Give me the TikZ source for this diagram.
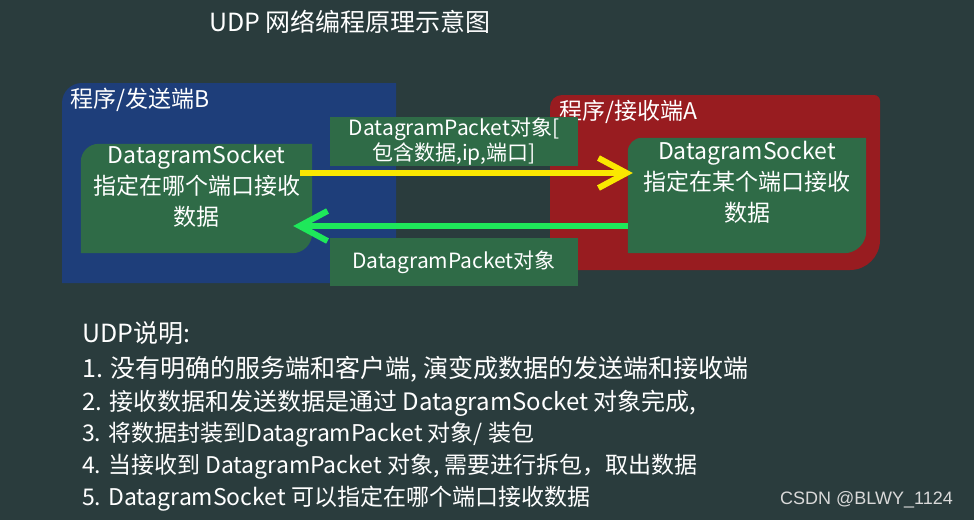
\documentclass[tikz,border=0pt]{standalone}
\usepackage{fontspec}
\setmainfont{Noto Sans CJK SC}
\newfontfamily\markfont{Liberation Sans}
\usetikzlibrary{arrows.meta}

\definecolor{bgslate}{RGB}{42,60,61}
\definecolor{senderblue}{RGB}{30,62,122}
\definecolor{receiverred}{RGB}{152,28,32}
\definecolor{socketgreen}{RGB}{47,107,71}
\definecolor{sendyellow}{RGB}{250,232,0}
\definecolor{replygreen}{RGB}{30,232,90}

\tikzset{
  boxarea/.style={rectangle, inner sep=0pt},
  sockettext/.style={text=white, align=center, inner sep=0pt, font=\fontsize{23}{31}\selectfont},
  packetbox/.style={rectangle, fill=socketgreen, text=white, align=center, inner sep=0pt,
    minimum width=248pt, font=\fontsize{21}{25}\selectfont},
  sidelabel/.style={text=white, anchor=west, inner sep=0pt, font=\fontsize{23}{28}\selectfont},
  noteline/.style={text=white, anchor=base west, inner sep=0pt, font=\fontsize{#1}{32}\selectfont},
  packetarrow/.style={line width=6pt, -{Straight Barb[length=28pt, width=30pt]}}
}

\begin{document}
\begin{tikzpicture}[x=1pt, y=-1pt]
  \fill[bgslate] (0,0) rectangle (974,520);
  \useasboundingbox (0,0) rectangle (974,520);

  % title
  \node[text=white, font=\fontsize{25}{28}\selectfont] (title) at (350,22) {UDP 网络编程原理示意图};

  % sender and receiver areas
  \fill[senderblue] (396,283) -- (62,283) -- (62,103) arc[start angle=180, end angle=90, radius=20pt] -- (396,83) -- cycle;
  \fill[receiverred] (550,270) -- (550,107) arc[start angle=180, end angle=90, radius=12pt]
    -- (874,95) arc[start angle=90, end angle=0, radius=6pt]
    -- (880,240) arc[start angle=0, end angle=-90, radius=30pt] -- cycle;
  \node[sidelabel] (senderlabel) at (70,100) {程序/发送端B};
  \node[sidelabel] (receiverlabel) at (559,112) {程序/接收端A};

  % packets
  \node[packetbox, minimum height=49pt] (packetout) at (454,141.5) {DatagramPacket对象[\\包含数据,ip,端口]};
  \node[packetbox, minimum height=48pt] (packetback) at (454,262) {DatagramPacket对象};

  % sockets
  \node[boxarea, minimum width=231pt, minimum height=109pt] (sender) at (196.5,198.5) {};
  \fill[socketgreen] (sender.north east) -- ([yshift=20pt]sender.south east) arc[start angle=0, end angle=-90, radius=20pt]
    -- (sender.south west) -- ([yshift=-18pt]sender.north west) arc[start angle=180, end angle=90, radius=18pt] -- cycle;
  \node[sockettext] (sendertext) at ([yshift=12.5pt]sender.center) {DatagramSocket\\指定在哪个端口接收\\数据};

  \node[boxarea, minimum width=238pt, minimum height=115pt] (receiver) at (747,195.5) {};
  \fill[socketgreen] (receiver.north east) -- ([yshift=22pt]receiver.south east) arc[start angle=0, end angle=-90, radius=22pt]
    -- (receiver.south west) -- ([yshift=-14pt]receiver.north west) arc[start angle=180, end angle=90, radius=14pt] -- cycle;
  \node[sockettext] (receivertext) at ([yshift=13.5pt]receiver.center) {DatagramSocket\\指定在某个端口接收\\数据};

  % connectors
  \coordinate (sendlevel) at (0,173);
  \coordinate (replylevel) at (0,226);
  \draw[packetarrow, sendyellow, shorten <=-12pt, shorten >=-5pt] (sender.east |- sendlevel) -- (receiver.west |- sendlevel);
  \draw[packetarrow, replygreen, shorten >=-19pt] (receiver.west |- replylevel) -- (sender.east |- replylevel);

  % notes
  \node[noteline=25] (note0) at (82,342.5) {UDP说明:};
  \node[noteline=25] (note1) at (82,377.5) {1. 没有明确的服务端和客户端, 演变成数据的发送端和接收端};
  \node[noteline=24] (note2) at (82,410) {2. 接收数据和发送数据是通过 DatagramSocket 对象完成,};
  \node[noteline=23] (note3) at (82,441.5) {3. 将数据封装到DatagramPacket 对象/ 装包};
  \node[noteline=23] (note4) at (82,473.5) {4. 当接收到 DatagramPacket 对象, 需要进行拆包，取出数据};
  \node[noteline=23] (note5) at (82,505.5) {5. DatagramSocket 可以指定在哪个端口接收数据};

  \node[text=black!15, anchor=west, inner sep=0pt, font=\markfont\fontsize{18}{20}\selectfont] (mark) at (780,500) {CSDN @BLWY\_1124};
\end{tikzpicture}
\end{document}
